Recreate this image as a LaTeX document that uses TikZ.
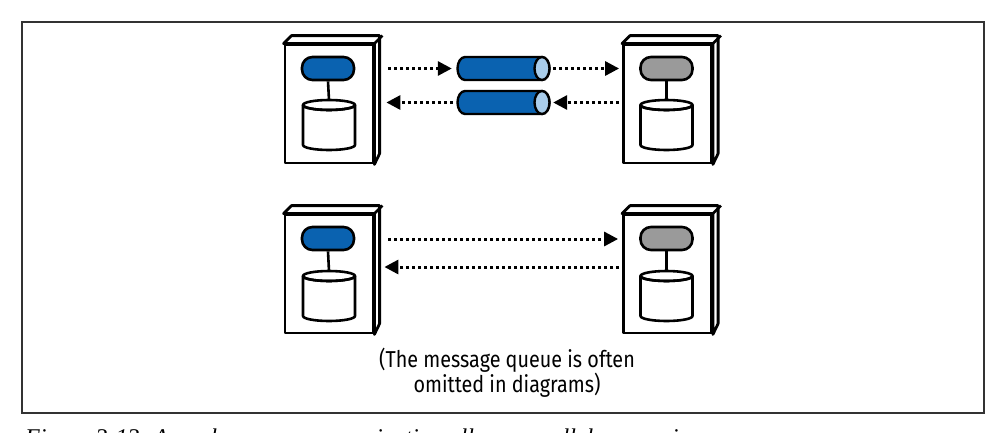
\documentclass[tikz,border=0pt]{standalone}
\usepackage{fontspec}
\newfontfamily\notefont[FakeStretch=0.86]{Fira Sans}
\newfontfamily\capfont{Liberation Serif}
\usetikzlibrary{arrows.meta,calc}
\definecolor{qblue}{HTML}{0A62B0}
\definecolor{qlight}{HTML}{A9CDEB}
\definecolor{pgray}{HTML}{9A9A9A}
\tikzset{
  boxline/.style={line width=2.8pt, line join=round},
  server/.style={boxline, draw, fill=white, minimum width=88pt, minimum height=118pt, inner sep=0pt},
  pill/.style={draw, line width=2.6pt, rounded corners=10.5pt, minimum width=52pt, minimum height=23pt, inner sep=0pt},
  dbline/.style={line width=2.6pt, line join=round},
  qline/.style={line width=2.4pt, line join=round},
  msg/.style={line width=3pt, dash pattern=on 3pt off 3pt, -{Triangle[length=14pt,width=14pt]}},
  notetext/.style={font=\notefont\fontsize{23}{25}\selectfont, align=center, inner sep=0pt},
}
\newcommand\serverbox[3]{%
  \node[server] (#1) at (#2,#3) {};
  \filldraw[boxline, fill=white] (#1.north west) -- ++(8,-8) -- ++(88,0) -- ++(0,118) -- (#1.south east) -- (#1.north east) -- cycle;
  \draw[boxline] (#1.north east) -- ++(8,-8);
}
\newcommand\database[3]{%
  \coordinate (#1) at (#2,#3);
  \coordinate (#1top) at (#2,#3-5);
  \filldraw[dbline, fill=white] (#2-26,#3) -- (#2-26,#3+40) arc[start angle=180, end angle=0, x radius=26, y radius=5] -- (#2+26,#3) arc[start angle=0, end angle=180, x radius=26, y radius=5] -- cycle;
  \draw[dbline] (#1) ellipse[x radius=26, y radius=5];
}
\newcommand\queue[3]{%
  \node[minimum width=93pt, minimum height=23pt, inner sep=0pt] (#1) at (#2,#3) {};
  \filldraw[qline, fill=qblue] (#2+38.5,#3-11.5) -- (#2-38.5,#3-11.5) arc[start angle=270, end angle=90, x radius=7.5, y radius=11.5] -- (#2+38.5,#3+11.5) arc[start angle=90, end angle=-90, x radius=7.5, y radius=11.5] -- cycle;
  \filldraw[qline, fill=qlight] (#2+38.5,#3) ellipse[x radius=7.5, y radius=11.5];
}
\begin{document}
\begin{tikzpicture}[x=1pt,y=-1pt]
\useasboundingbox (0,0) rectangle (999,432);
\fill[white] (0,0) rectangle (999,432);
% frame
\draw[line width=1.8pt, black!80] (22,22) rectangle (984,413);

% top row
\serverbox{s1}{329}{104}
\serverbox{s2}{667.5}{104}
\node[pill, fill=qblue] (p1) at (328,68.5) {};
\node[pill, fill=pgray] (p2) at (666.5,68.5) {};
\database{d1}{329}{105}
\database{d2}{666.5}{105}
\draw[dbline] (p1.south) -- (d1top);
\draw[dbline] (p2.south) -- (d2top);
\queue{q1}{503.5}{68.5}
\queue{q2}{503.5}{102.5}
\draw[msg] ($(s1.east |- q1.west)+(14,0)$) -- ($(q1.west)+(-5,0)$);
\draw[msg] ($(q1.east)+(3,0)$) -- ($(s2.west |- q1.east)+(-3,0)$);
\draw[msg] ($(s2.west |- q2.east)+(-3,0)$) -- ($(q2.east)+(3,0)$);
\draw[msg] ($(q2.west)+(-4,0)$) -- ($(s1.east |- q2.west)+(12,0)$);

% bottom row
\serverbox{s3}{329}{274}
\serverbox{s4}{667.5}{274}
\node[pill, fill=qblue] (p3) at (328,238.5) {};
\node[pill, fill=pgray] (p4) at (666.5,238.5) {};
\database{d3}{329}{276}
\database{d4}{666.5}{276}
\draw[dbline] (p3.south) -- (d3top);
\draw[dbline] (p4.south) -- (d4top);
\draw[msg] ($(s3.east)+(14,-35)$) -- ($(s4.west)+(-4,-35)$);
\draw[msg] ($(s4.west)+(-3,-7)$) -- ($(s3.east)+(10,-7)$);

% note
\node[notetext, anchor=base] (note) at (507,392) {(The message queue is often\\omitted in diagrams)};

% caption (cut by the page edge, as in the reference)
\node[anchor=base west, inner sep=0pt, font=\capfont\itshape\fontsize{24}{28}\selectfont] (cap) at (25,445) {Figure 3-13. Asynchronous communication allows parallel processing};
\end{tikzpicture}
\end{document}
